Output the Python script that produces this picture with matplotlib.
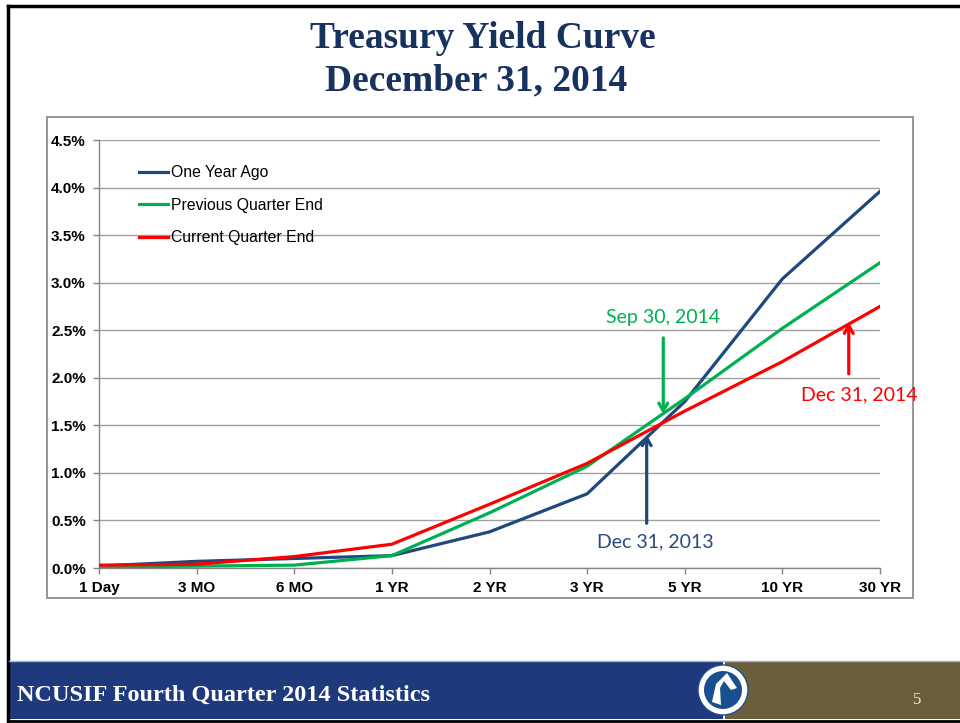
import matplotlib
matplotlib.use("Agg")
import matplotlib.pyplot as plt
from matplotlib.patches import Rectangle, Circle, Polygon
from matplotlib.lines import Line2D

# ---------------- data ----------------
categories = ["1 Day", "3 MO", "6 MO", "1 YR", "2 YR", "3 YR", "5 YR", "10 YR", "30 YR"]
one_year_ago = [0.02, 0.07, 0.10, 0.13, 0.38, 0.78, 1.75, 3.04, 3.96]
previous_quarter = [0.01, 0.02, 0.03, 0.13, 0.58, 1.07, 1.78, 2.52, 3.21]
current_quarter = [0.03, 0.04, 0.12, 0.25, 0.67, 1.10, 1.65, 2.17, 2.75]
series_names = ["One Year Ago", "Previous Quarter End", "Current Quarter End"]
y_ticks = [0.0, 0.5, 1.0, 1.5, 2.0, 2.5, 3.0, 3.5, 4.0, 4.5]
y_tick_labels = ["0.0%", "0.5%", "1.0%", "1.5%", "2.0%", "2.5%", "3.0%", "3.5%", "4.0%", "4.5%"]
annotation_labels = ["Sep 30, 2014", "Dec 31, 2013", "Dec 31, 2014"]

NAVY = "#1F497D"
GREEN = "#00B050"
RED = "#FF0000"
TITLE_C = "#17325F"

W, H = 960, 723
fig = plt.figure(figsize=(W / 100, H / 100), dpi=100)
fig.patch.set_facecolor("white")

# ---------------- slide background (pixel coords) ----------------
bg = fig.add_axes([0, 0, 1, 1], zorder=0)
bg.set_xlim(0, W)
bg.set_ylim(H, 0)
bg.axis("off")

# slide frame
bg.add_line(Line2D([8, W], [6, 6], color="black", lw=2.5))
bg.add_line(Line2D([8, 8], [6, 721], color="black", lw=2.5))
bg.add_line(Line2D([8, W], [721, 721], color="black", lw=2.0))

# title
bg.text(483, 38, "Treasury Yield Curve", ha="center", va="center",
        fontsize=27, fontweight="bold", family="Liberation Serif", color=TITLE_C)
bg.text(476, 81, "December 31, 2014", ha="center", va="center",
        fontsize=27, fontweight="bold", family="Liberation Serif", color=TITLE_C)

# chart frame
bg.add_patch(Rectangle((47, 117), 866, 481, fill=False, edgecolor="#8C8C8C", lw=1.3))

# footer bands
bg.add_patch(Rectangle((9, 661), 714, 58, facecolor="#1F3A7C", edgecolor="none"))
bg.add_patch(Rectangle((725, 661), 235, 58, facecolor="#6B5F3B", edgecolor="none"))
bg.add_line(Line2D([9, W], [661, 661], color="#9FB3CC", lw=1))
bg.text(17, 695, "NCUSIF Fourth Quarter 2014 Statistics", ha="left", va="center",
        fontsize=17.5, fontweight="bold", family="Liberation Serif", color="white")
bg.text(917, 700, "5", ha="center", va="center", fontsize=12,
        family="Liberation Serif", color="#E8E8E8")

# logo
bg.add_patch(Circle((723, 690), 25, facecolor="white", edgecolor="#1F4E8C", lw=1.0))
bg.add_patch(Circle((723, 690), 19, facecolor="#1A4F8F", edgecolor="none"))
bg.add_patch(Polygon([[712, 702], [716, 684], [727, 673], [737, 688], [731, 690],
                      [724, 681], [720, 688], [721, 705]], closed=True,
                     facecolor="white", edgecolor="none"))

# ---------------- chart ----------------
ax = fig.add_axes([99 / W, 1 - 568 / H, (880 - 99) / W, (568 - 140) / H], zorder=2)
ax.patch.set_alpha(0)
x = list(range(len(categories)))
ax.plot(x, one_year_ago, color=NAVY, lw=2.3, label=series_names[0], zorder=3,
        solid_joinstyle="round")
ax.plot(x, previous_quarter, color=GREEN, lw=2.3, label=series_names[1], zorder=4,
        solid_joinstyle="round")
ax.plot(x, current_quarter, color=RED, lw=2.3, label=series_names[2], zorder=5,
        solid_joinstyle="round")

ax.set_xlim(0, len(categories) - 1)
ax.set_ylim(0, 4.5)
ax.set_xticks(x)
ax.set_xticklabels(categories, fontsize=11, fontweight="bold", family="Liberation Sans")
ax.set_yticks(y_ticks)
ax.set_yticklabels(y_tick_labels, fontsize=11, fontweight="bold", family="Liberation Sans")
ax.tick_params(axis="x", length=4, width=1, color="#868686", pad=5.5)
ax.tick_params(axis="y", length=4, width=1, color="#868686", pad=5.5)
ax.grid(axis="y", color="#A0A0A0", lw=1)
ax.set_axisbelow(True)
for s in ["top", "right"]:
    ax.spines[s].set_visible(False)
for s in ["left", "bottom"]:
    ax.spines[s].set_color("#868686")
    ax.spines[s].set_linewidth(1)

leg = ax.legend(loc="upper left", bbox_to_anchor=(0.051, 0.941), frameon=False,
                prop={"family": "Liberation Sans", "size": 11.3},
                handlelength=1.85, handletextpad=0.2, labelspacing=1.12,
                borderpad=0, borderaxespad=0)
for line in leg.get_lines():
    line.set_linewidth(2.3)

# annotations
afont = dict(family="Lato", fontsize=14)
ax.annotate("", xy=(5.78, 1.62), xytext=(5.78, 2.42),
            arrowprops=dict(arrowstyle="->,head_length=0.55,head_width=0.32",
                            color=GREEN, lw=2.3, shrinkA=0, shrinkB=0))
ax.text(5.78, 2.63, annotation_labels[0], color=GREEN, ha="center", va="center", **afont)

ax.annotate("", xy=(5.61, 1.40), xytext=(5.61, 0.47),
            arrowprops=dict(arrowstyle="->,head_length=0.55,head_width=0.32",
                            color=NAVY, lw=2.3, shrinkA=0, shrinkB=0))
ax.text(5.70, 0.27, annotation_labels[1], color="#2C4A7C", ha="center", va="center", **afont)

ax.annotate("", xy=(7.68, 2.58), xytext=(7.68, 2.04),
            arrowprops=dict(arrowstyle="->,head_length=0.55,head_width=0.32",
                            color=RED, lw=2.3, shrinkA=0, shrinkB=0))
ax.text(7.79, 1.82, annotation_labels[2], color=RED, ha="center", va="center",
        clip_on=False, **afont)

fig.savefig("out.png", dpi=100, facecolor="white")
